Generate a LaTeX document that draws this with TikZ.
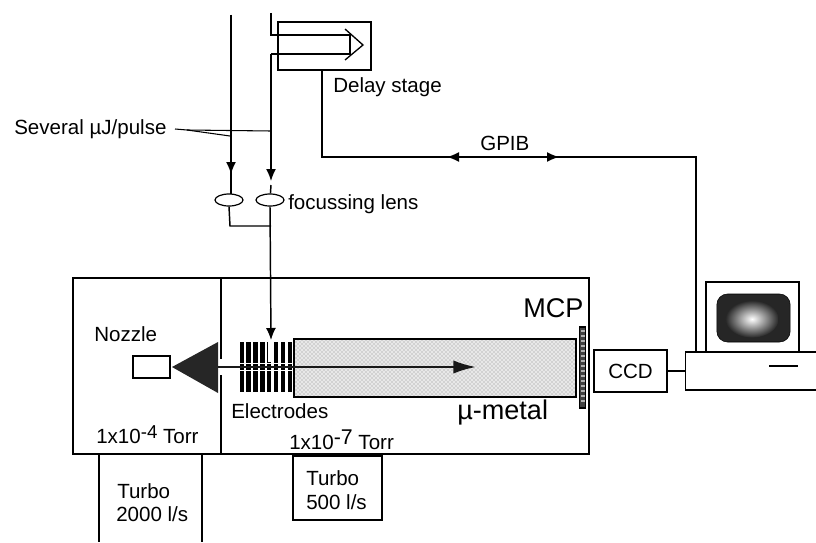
\documentclass[tikz,border=0pt]{standalone}
\usepackage{fontspec}
\setmainfont{Liberation Sans}
\usetikzlibrary{arrows.meta,shapes.geometric,patterns}
\tikzset{
	box/.style={draw, line width=1.2pt, inner sep=0pt},
	lens/.style={draw, line width=0.9pt, ellipse, inner sep=0pt, minimum width=21pt, minimum height=9pt},
	txt/.style={anchor=base west, inner sep=0pt, font=\fontsize{15.4}{18}\selectfont},
	bigtxt/.style={anchor=base west, inner sep=0pt, font=\fontsize{20.3}{24}\selectfont},
	beam/.style={-{Latex[length=9pt,width=7.5pt]}, line width=1.1pt},
	wire/.style={line width=1.1pt}
}
\begin{document}
\begin{tikzpicture}[x=0.75pt,y=-0.75pt]
	\useasboundingbox (0,0) rectangle (816,542);

	% chambers
	\draw node[box, minimum width=111pt, minimum height=132pt] (source) at (147,366) {};
	\draw node[box, minimum width=276pt, minimum height=132pt] (main) at (405,366) {};
	\draw node[box, fill=white, minimum width=28pt, minimum height=16.5pt] (nozzle) at (151.5,367) {};
	\draw[fill=white, draw=white] (219,359) rectangle (223,374);
	\draw[line width=1.9pt] (221,278) -- (221,358);
	\draw[line width=1.9pt] (221,375) -- (221,454);

	% flight tube and detector
	\draw node[box, preaction={fill=gray!18}, pattern=crosshatch dots, pattern color=black!45, minimum width=211.5pt, minimum height=43.5pt] (tube) at (435,368) {};
	\draw node[draw, line width=0.8pt, fill=black!75, inner sep=0pt, minimum width=5pt, minimum height=60.75pt] (mcp) at (582.5,367.5) {};
	\foreach \y in {331,336,...,405}
		\draw[white!70!black, line width=1.4pt] (580.5,\y) -- (584.5,\y);

	% skimmer
	\coordinate (skimtip) at (172,367);
	\coordinate (skimtop) at (218,342);
	\coordinate (skimbot) at (218,393);
	\fill[black!85] (skimtip) -- (skimtop) -- (skimbot) -- cycle;

	% electrodes
	\foreach \x in {241.7,248.6,255.5,262.4,269.3,276.2,283.1,290}
		\draw[line width=3.2pt] (\x,342) -- (\x,392);
	\draw[white, line width=2pt] (269.5,342) -- (269.5,362);
	\draw[white, line width=1.2pt] (239,363.5) -- (293,363.5);
	\draw[white, line width=1.2pt] (239,370.5) -- (293,370.5);

	% beams
	\coordinate (tiptop) at (271,13);
	\coordinate (fold) at (271,35);
	\coordinate (foldend) at (350,35);
	\coordinate (backend) at (350,54);
	\coordinate (back) at (271,54);
	\coordinate (laser) at (231,15);
	\draw node[box, minimum width=70pt, minimum height=36pt] (delay) at (324.5,46) {};
	\draw node[lens] (lensa) at (229,200) {};
	\draw node[lens] (lensb) at (270,200) {};
	\coordinate (tipa) at (231,194);
	\coordinate (tipb) at (271,181);
	\coordinate (stub) at (271,185);
	\coordinate (join) at (271,226);
	\coordinate (corner) at (230,226);
	\coordinate (probe) at (271,340);
	\draw[wire] (tiptop) -- (fold) -- (foldend) -- (backend) -- (back);
	\draw[beam] (back) -- (tipb);
	\draw[wire] (stub) -- (lensb);
	\draw[wire] (laser) -- (tipa);
	\draw[beam] (laser) -- (231,174);
	\draw[wire] (lensa.south) -- (corner) -- (join);
	\draw[beam] (lensb.south) -- (probe);
	\draw[line width=1pt] (345,29) -- (363,45) -- (345,60);

	\coordinate (pulse) at (175,129);
	\draw[line width=0.8pt] (pulse) -- (187,130) -- (271,131);
	\draw[line width=0.8pt] (187,130) -- (230,136);

	% ion path
	\coordinate (ionstart) at (218,367);
	\coordinate (ionend) at (476,367);
	\draw[-{Latex[length=17pt,width=10pt]}, line width=1.8pt, black!90] (ionstart) -- (ionend);

	% readout
	\draw node[box, minimum width=55pt, minimum height=31.5pt, font=\fontsize{15.4}{18}\selectfont] (ccd) at (630.5,371) {CCD};
	\draw node[box, minimum width=100pt, minimum height=28.5pt] (base) at (752,371) {};
	\draw node[box, minimum width=70pt, minimum height=52.5pt] (monitor) at (752.5,317) {};
	\draw node[draw, rounded corners=8pt, fill=black!85, inner sep=0pt, minimum width=55pt, minimum height=36pt] (screen) at (753.5,318) {};
	\draw node[ellipse, inner sep=0pt, inner color=white, outer color=black!85, minimum width=40pt, minimum height=28pt] (spot) at (752,319) {};
	\coordinate (slota) at (769,366);
	\coordinate (slotb) at (798,366);
	\draw[line width=1.9pt] (slota) -- (slotb);
	\draw[wire] (ccd) -- (ccd -| base.west);

	% GPIB
	\coordinate (gpiba) at (322,157);
	\coordinate (gpibb) at (696,157);
	\coordinate (gpibc) at (696,352);
	\coordinate (left) at (447,157);
	\coordinate (right) at (559,157);
	\draw[wire] (delay.south -| gpiba) -- (gpiba) -- (gpibb) -- (gpibc);
	\draw[beam] (470,157) -- (left);
	\draw[beam] (530,157) -- (right);

	% pumps
	\draw[line width=1.2pt] (99,454) -- (99,542);
	\draw[line width=1.2pt] (202,454) -- (202,542);
	\draw node[box, minimum width=67pt, minimum height=48pt] (turbob) at (337.5,488) {};

	% labels
	\node[txt] (severallbl) at (14,134) {Several µJ/pulse};
	\node[txt] (delaylbl) at (333,92) {Delay stage};
	\node[txt] (gpiblbl) at (480,150) {GPIB};
	\node[txt] (lenslbl) at (288,209) {focussing lens};
	\node[txt] (nozzlelbl) at (94,341) {Nozzle};
	\node[txt] (electrodelbl) at (231,418) {Electrodes};
	\node[bigtxt] (mcplbl) at (523,317) {MCP};
	\node[bigtxt] (metallbl) at (457,419) {µ-metal};
	\node[txt] (srclbl) at (96,443) {1x10\raisebox{0.4ex}{\fontsize{14}{12}\selectfont -4} Torr};
	\node[txt] (mainlbl) at (289,449) {1x10\raisebox{0.4ex}{\fontsize{16}{12}\selectfont -7} Torr};
	\node[txt] (turboalbl) at (117,498) {Turbo};
	\node[txt] (turboalblb) at (116,521) {2000 l/s};
	\node[txt] (turboblbl) at (306,485) {Turbo};
	\node[txt] (turboblblb) at (306,509) {500 l/s};
\end{tikzpicture}
\end{document}
